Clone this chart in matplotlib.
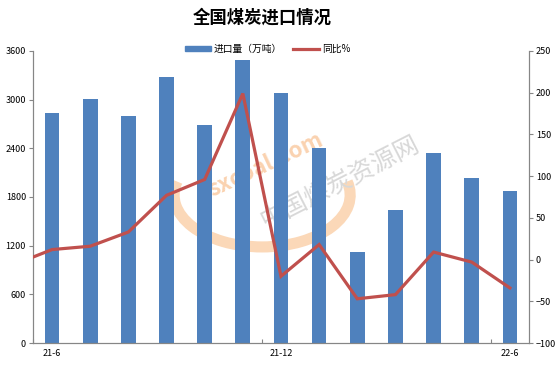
import numpy as np
import matplotlib.pyplot as plt
from matplotlib.patches import Arc
from matplotlib.lines import Line2D
from matplotlib.patches import Patch

plt.rcParams['font.family'] = ['Noto Sans CJK SC', 'DejaVu Sans']

# data
months = ['21-6', '21-7', '21-8', '21-9', '21-10', '21-11', '21-12',
          '22-1', '22-2', '22-3', '22-4', '22-5', '22-6']
imports = [2840, 3010, 2800, 3280, 2690, 3490, 3080,
           2400, 1120, 1640, 2340, 2040, 1880]
# yoy % ; first value is 21-5, sits left of the axis and gets clipped
yoy_prev = -6
yoy = [12, 16, 33, 77, 96, 199, -20, 18, -47, -42, 9, -3, -34]
shown_labels = {0: '21-6', 6: '21-12', 12: '22-6'}

blue = '#4F81BD'
red = '#C0504D'
grey = '#868686'

fig = plt.figure(figsize=(5.6, 3.66), dpi=100)
ax = fig.add_axes([0.0589, 0.0628, 0.8857, 0.7979])
x = np.arange(len(months))

ax.bar(x, imports, width=0.385, color=blue, zorder=2)
ax.set_xlim(-0.5, len(months) - 0.5)
ax.set_ylim(0, 3600)
ax.set_yticks(np.arange(0, 3601, 600))

ax2 = ax.twinx()
xl = np.concatenate([[-1], x])
ax2.plot(xl, [yoy_prev] + yoy, color=red, lw=2.3, zorder=3, solid_joinstyle='miter')
ax2.set_ylim(-100, 250)
ax2.set_yticks(np.arange(-100, 251, 50))
ax2.set_xlim(-0.5, len(months) - 0.5)

# watermark (behind the bars)
ax.add_patch(Arc((0.462, 0.507), 0.355, 0.356, theta1=165, theta2=375,
                 transform=ax.transAxes, color='#FBD8B8', lw=8, zorder=1))
ax.text(0.47, 0.61, 'sxcoal.com', transform=ax.transAxes, rotation=25,
        color='#FAD2B0', fontsize=16, fontweight='bold', ha='center', va='center', zorder=1)
ax.text(0.62, 0.55, '中国煤炭资源网', transform=ax.transAxes, rotation=27,
        color='#D8D8D8', fontsize=18, ha='center', va='center', zorder=1)

# axes styling
for a in (ax, ax2):
    a.spines['top'].set_visible(False)
    for s in ('left', 'right', 'bottom'):
        a.spines[s].set_color(grey)
        a.spines[s].set_linewidth(0.8)
ax.tick_params(axis='y', labelsize=6.5, length=3, color=grey, pad=2)
ax2.tick_params(axis='y', labelsize=6.5, length=3, color=grey, pad=2)

# x ticks at category boundaries, labels centred on categories
ax.set_xticks([-0.5, 5.5, 11.5])
ax.set_xticklabels([])
ax.tick_params(axis='x', length=3, color=grey, direction='in')
ax.set_xticks(list(shown_labels.keys()), minor=True)
ax.set_xticklabels(list(shown_labels.values()), minor=True, fontsize=6.5)
ax.tick_params(axis='x', which='minor', length=0, pad=4)

fig.text(0.468, 0.953, '全国煤炭进口情况', ha='center', va='center',
         fontsize=12.5, fontweight='bold')

handles = [Patch(color=blue), Line2D([], [], color=red, lw=2.3)]
fig.legend(handles, ['进口量（万吨）', '同比%'], loc='center', bbox_to_anchor=(0.478, 0.866),
           ncol=2, frameon=False, fontsize=7, handlelength=2.6, handleheight=0.5,
           columnspacing=1.2, handletextpad=0.3)

fig.savefig('out.png', dpi=100)
